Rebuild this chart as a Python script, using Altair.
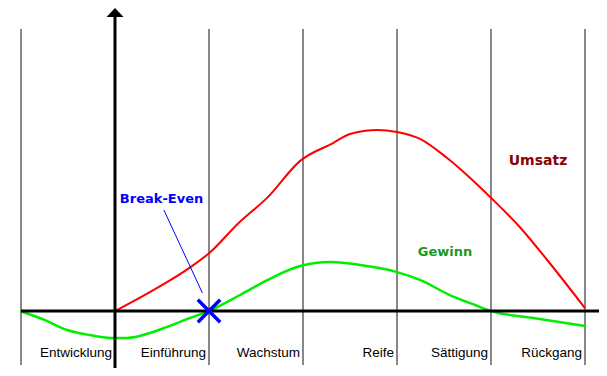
import altair as alt
import pandas as pd

# ---- data (x in phase units: 0 = start of "Einführung"; y in % of peak Umsatz)
phase_labels = ["Entwicklung", "Einführung", "Wachstum", "Reife", "Sättigung", "Rückgang"]
phase_ends = [0, 1, 2, 3, 4, 5]
phase_bounds = [-1, 1, 2, 3, 4, 5]

umsatz_t = [0.0, 0.37, 0.8, 1.01, 1.31, 1.62, 1.97, 2.32, 2.5, 2.79, 3.0, 3.25, 3.53, 3.81, 4.01, 4.31, 4.6, 5.0]
umsatz_v = [0.0, 10.4, 24.0, 32.2, 48.1, 62.3, 82.5, 92.3, 97.3, 99.5, 98.4, 94.5, 84.2, 71.6, 61.7, 45.9, 27.9, 1.6]

gewinn_t = [-1.01, -0.75, -0.51, -0.27, -0.05, 0.13, 0.37, 0.55, 0.8, 1.0, 1.33, 1.62, 1.97, 2.29,
            2.68, 3.0, 3.25, 3.56, 3.83, 4.0, 4.45, 5.0]
gewinn_v = [0.0, -4.9, -10.4, -13.2, -14.8, -14.8, -12.1, -8.8, -3.8, 0.0, 8.8, 17.0, 24.7, 26.9,
            24.7, 21.4, 17.0, 8.8, 3.3, 0.0, -3.8, -8.2]

break_even_t = 1.0
break_even_v = 0.0

X_DOM = [-1.1383, 5.1489]
Y_DOM = [-31.3, 166.5]

xs = alt.Scale(domain=X_DOM, nice=False, zero=False)
ys = alt.Scale(domain=Y_DOM, nice=False, zero=False)

def X(field):
    return alt.X(field, type="quantitative", scale=xs, axis=None)

def Y(field):
    return alt.Y(field, type="quantitative", scale=ys, axis=None)

bounds_df = pd.DataFrame({"t": phase_bounds, "y1": [-29.7] * len(phase_bounds), "y2": [155.0] * len(phase_bounds)})
thin = alt.Chart(bounds_df).mark_rule(color="#111111", strokeWidth=1).encode(
    x=X("t"), y=Y("y1"), y2="y2")

haxis_df = pd.DataFrame({"t1": [-1.0], "t2": [X_DOM[1]], "v": [0.0]})
haxis = alt.Chart(haxis_df).mark_rule(color="black", strokeWidth=3).encode(
    x=X("t1"), x2="t2", y=Y("v"))

vaxis_df = pd.DataFrame({"t": [0.0], "y1": [Y_DOM[0]], "y2": [161.5]})
vaxis = alt.Chart(vaxis_df).mark_rule(color="black", strokeWidth=3).encode(
    x=X("t"), y=Y("y1"), y2="y2")

arrow_df = pd.DataFrame({"t": [0.0], "v": [164.0]})
arrow = alt.Chart(arrow_df).mark_point(
    shape="M0,-0.53L1,0.53L-1,0.53Z", size=289, filled=True, color="black", opacity=1, strokeWidth=0
).encode(x=X("t"), y=Y("v"))

umsatz_df = pd.DataFrame({"t": umsatz_t, "v": umsatz_v})
umsatz = alt.Chart(umsatz_df).mark_line(color="#ff0000", strokeWidth=2, interpolate="monotone").encode(
    x=X("t"), y=Y("v"))

gewinn_df = pd.DataFrame({"t": gewinn_t, "v": gewinn_v})
gewinn = alt.Chart(gewinn_df).mark_line(color="#00ee00", strokeWidth=2.5, interpolate="monotone").encode(
    x=X("t"), y=Y("v"))

pointer_df = pd.DataFrame({"t1": [0.52], "v1": [55.5], "t2": [0.93], "v2": [9.9]})
pointer = alt.Chart(pointer_df).mark_rule(color="#0000ff", strokeWidth=1).encode(
    x=X("t1"), y=Y("v1"), x2="t2", y2="v2")

be_df = pd.DataFrame({"t": [break_even_t], "v": [break_even_v]})
be_mark = alt.Chart(be_df).mark_point(
    shape="M-1,-1L1,1M-1,1L1,-1", size=500, filled=False, color="#0000ff", strokeWidth=3.5, opacity=1
).encode(x=X("t"), y=Y("v"))

labels_df = pd.DataFrame({"t": phase_ends, "v": [-23.1] * len(phase_ends), "label": phase_labels})
phase_text = alt.Chart(labels_df).mark_text(
    align="right", baseline="middle", dx=-3, font="Liberation Sans", fontSize=13.5, color="black"
).encode(x=X("t"), y=Y("v"), text="label:N")

def tag(label, t, v, color, size):
    df = pd.DataFrame({"t": [t], "v": [v], "label": [label]})
    return alt.Chart(df).mark_text(
        align="center", baseline="middle", font="DejaVu Sans", fontWeight="bold", fontSize=size, color=color
    ).encode(x=X("t"), y=Y("v"), text="label:N")

be_text = tag("Break-Even", 0.495, 61.5, "#0000ff", 13)
umsatz_text = tag("Umsatz", 4.5, 82.4, "#8b0000", 14)
gewinn_text = tag("Gewinn", 3.51, 32.4, "#1a991a", 13)

chart = alt.layer(
    thin, umsatz, gewinn, haxis, vaxis, arrow, pointer, be_mark,
    phase_text, be_text, umsatz_text, gewinn_text
).properties(
    width=591, height=360, autosize=alt.AutoSizeParams(type="none"), padding=0
).configure_view(stroke=None)

chart.save("out.html", embed_options={"renderer": "svg", "actions": False})
